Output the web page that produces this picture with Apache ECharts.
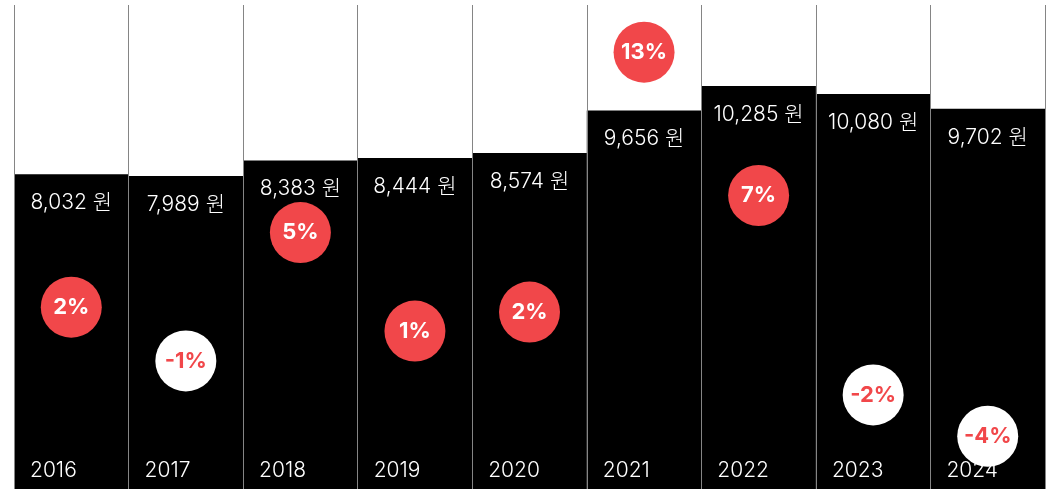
<!DOCTYPE html>
<html>
<head>
<meta charset="utf-8">
<script src="https://cdn.jsdelivr.net/npm/echarts@6/dist/echarts.min.js"></script>
<style>
  html, body { margin: 0; padding: 0; background: #fff; }
  #chart { width: 1056px; height: 489px; }
</style>
</head>
<body>
<div id="chart"></div>
<script>
// Yearly price (원) and year-over-year change (%)
const years = ['2016', '2017', '2018', '2019', '2020', '2021', '2022', '2023', '2024'];
const prices = [8032, 7989, 8383, 8444, 8574, 9656, 10285, 10080, 9702];
const changes = [1.75, -0.54, 4.93, 0.73, 1.54, 12.62, 6.51, -1.99, -3.75];

const RED = '#F1474A';
const FONT = 'Inter, "Noto Sans CJK KR", "Noto Sans", sans-serif';

const chart = echarts.init(document.getElementById('chart'), null, { renderer: 'canvas' });

chart.setOption({
  animation: false,
  backgroundColor: '#fff',
  grid: { left: 14, right: 11, top: 5, bottom: 0 },
  xAxis: {
    type: 'category',
    data: years,
    boundaryGap: true,
    z: 10,
    axisLine: { show: false },
    axisTick: { show: false },
    axisLabel: { show: false },
    splitLine: {
      show: true,
      showMinLine: true,
      showMaxLine: true,
      lineStyle: { color: '#858585', width: 1 }
    }
  },
  yAxis: [
    { type: 'value', min: 0, max: 12350, show: false },
    { type: 'value', min: -6, max: 14.63, show: false }
  ],
  series: [
    {
      name: 'price',
      type: 'bar',
      data: prices,
      barCategoryGap: '0%',
      barGap: '-100%',
      itemStyle: { color: '#000' },
      label: {
        show: true,
        position: 'insideTop',
        distance: 18,
        color: '#fff',
        fontFamily: FONT,
        fontWeight: 300,
        fontSize: 21,
        formatter: p => p.value.toLocaleString('en-US') + ' 원'
      },
      z: 2
    },
    {
      name: 'year',
      type: 'bar',
      data: prices,
      barCategoryGap: '0%',
      barGap: '-100%',
      silent: true,
      itemStyle: { color: 'rgba(0,0,0,0)' },
      label: {
        show: true,
        position: 'insideBottomLeft',
        distance: 0,
        offset: [16, -8],
        color: '#fff',
        fontFamily: FONT,
        fontWeight: 300,
        fontSize: 21,
        formatter: p => p.name
      },
      z: 3
    },
    {
      name: 'change',
      type: 'scatter',
      yAxisIndex: 1,
      data: changes.map(v => v >= 0 ? v : { value: v, label: { color: RED } }),
      symbol: 'circle',
      symbolSize: 61,
      itemStyle: {
        color: p => (p.value >= 0 ? RED : '#fff'),
        opacity: 1
      },
      label: {
        show: true,
        position: 'inside',
        fontFamily: FONT,
        fontWeight: 700,
        fontSize: 22,
        color: '#fff',
        formatter: p => Math.round(p.value) + '%'
      },
      z: 4
    }
  ]
});
</script>
</body>
</html>
